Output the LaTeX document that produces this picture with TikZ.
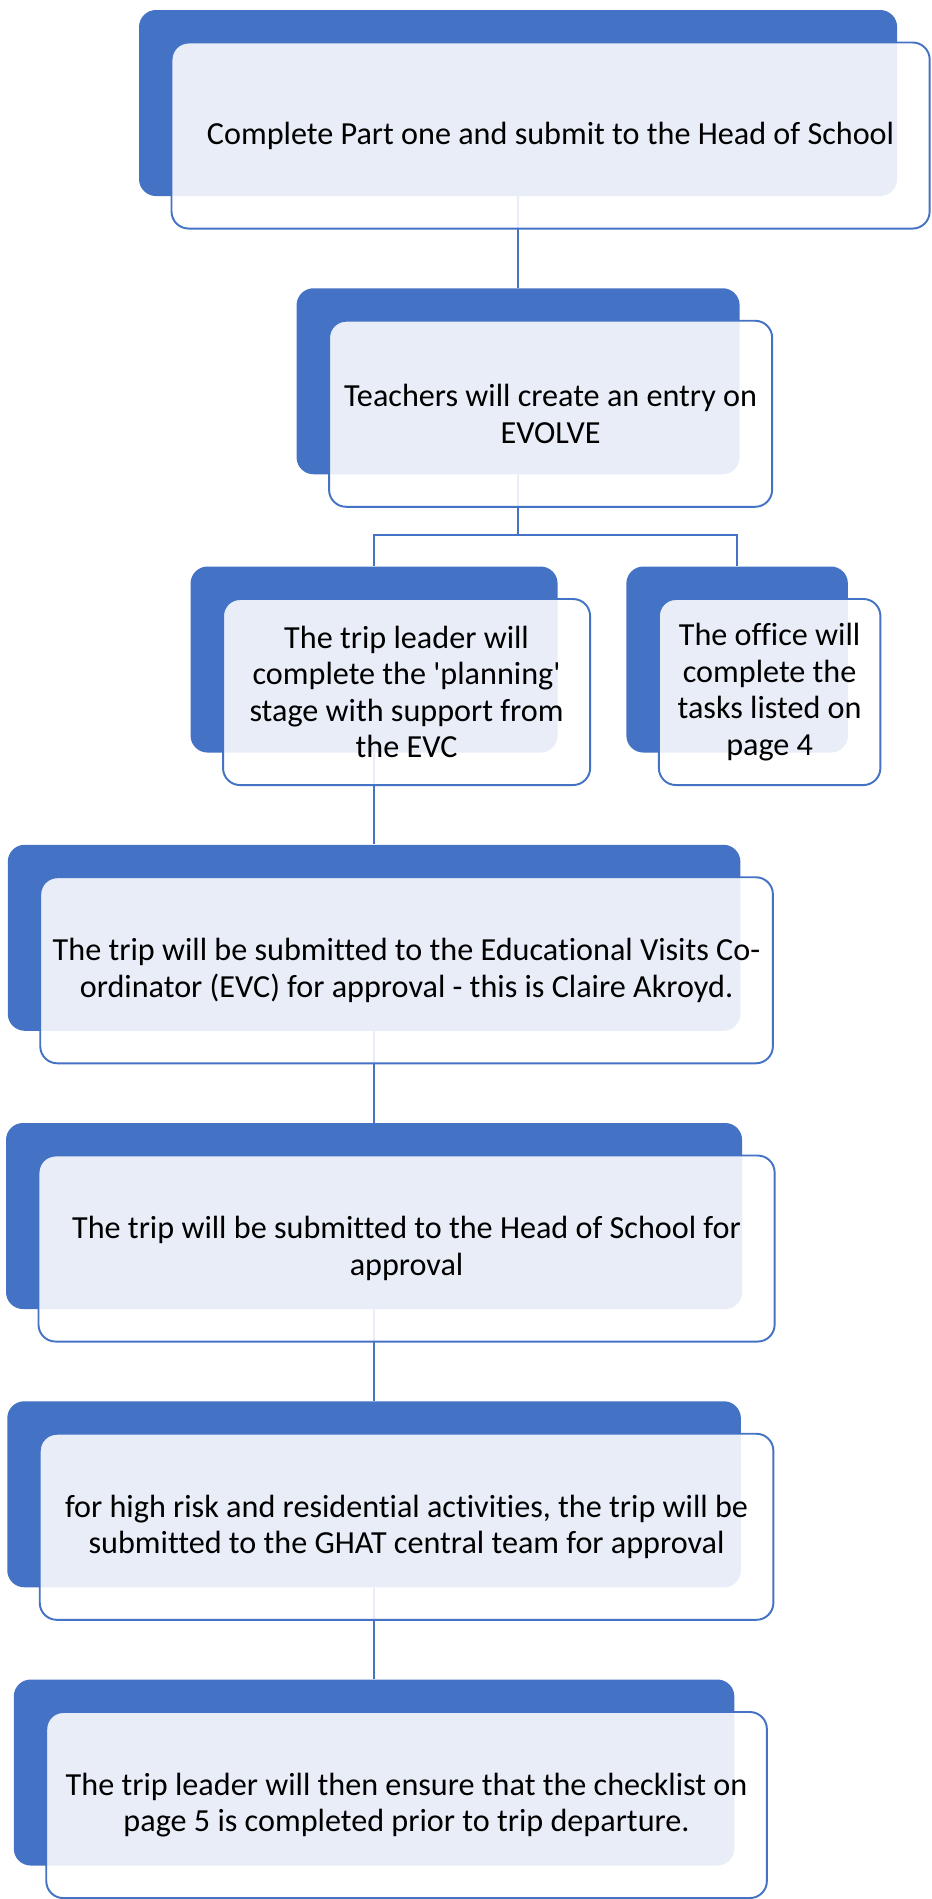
\documentclass[tikz,border=0pt]{standalone}
\usepackage{fontspec}
\setmainfont{Carlito}[Ligatures=NoCommon]
\usetikzlibrary{positioning}
\definecolor{accent}{HTML}{4472C4}

\begin{document}
\begin{tikzpicture}[
                    node distance=1.83cm,
                    back/.style={fill=accent, rounded corners=0.34cm, inner sep=0pt, minimum height=3.72cm},
                    front/.style={draw=accent, line width=1.1pt, fill=white, fill opacity=0.88, text opacity=1, rounded corners=0.34cm, minimum height=3.72cm, align=center, font=\fontsize{18.3}{20.7}\selectfont},
                    link/.style={draw=accent, line width=1.1pt}
                    ]

                    \fill[white] (0,0) rectangle (18.62,-37.97);

                    % blue tabs behind the cards
                    \node [back, minimum width=15.16cm] (back1) at (10.36,-2.06) {};
                    \node [back, minimum width=8.86cm, below=of back1] (back2) {};
                    \node [back, minimum width=7.34cm, below=of back2, xshift=-2.88cm] (back3) {};
                    \node [back, minimum width=4.43cm, below=of back2, xshift=4.38cm] (back4) {};
                    \node [back, minimum width=14.65cm, below=of back3] (back5) {};
                    \node [back, minimum width=14.72cm, below=of back5] (back6) {};
                    \node [back, minimum width=14.67cm, below=of back6] (back7) {};
                    \node [back, minimum width=14.41cm, below=of back7] (back8) {};

                    \coordinate [below=1.21cm of back2.south] (split);

                    \draw[link] (back1.south) -- (back2.north);
                    \draw[link] (back2.south) -- (split);
                    \draw[link] (split) -| (back3.north);
                    \draw[link] (split) -| (back4.north);
                    \draw[link] (back3.south) -- (back5.north);
                    \draw[link] (back5.south) -- (back6.north);
                    \draw[link] (back6.south) -- (back7.north);
                    \draw[link] (back7.south) -- (back8.north);

                    % cards
                    \node [front, minimum width=15.16cm] (box1) at ([shift={(0.65,-0.65)}]back1) {Complete Part one and submit to the Head of School};
                    \node [front, minimum width=8.86cm] (box2) at ([shift={(0.65,-0.65)}]back2) {Teachers will create an entry on\\EVOLVE};
                    \node [front, minimum width=7.34cm] (box3) at ([shift={(0.65,-0.65)}]back3) {The trip leader will\\complete the \textquotesingle planning\textquotesingle\\stage with support from\\the EVC};
                    \node [front, minimum width=4.43cm] (box4) at ([shift={(0.65,-0.65)}]back4) {The office will\\complete the\\tasks listed on\\page 4};
                    \node [front, minimum width=14.65cm] (box5) at ([shift={(0.65,-0.65)}]back5) {The trip will be submitted to the Educational Visits Co-\\ordinator (EVC) for approval - this is Claire Akroyd.};
                    \node [front, minimum width=14.72cm] (box6) at ([shift={(0.65,-0.65)}]back6) {The trip will be submitted to the Head of School for\\approval};
                    \node [front, minimum width=14.67cm] (box7) at ([shift={(0.65,-0.65)}]back7) {for high risk and residential activities, the trip will be\\submitted to the GHAT central team for approval};
                    \node [front, minimum width=14.41cm] (box8) at ([shift={(0.65,-0.65)}]back8) {The trip leader will then ensure that the checklist on\\page 5 is completed prior to trip departure.};
                \end{tikzpicture}
\end{document}
